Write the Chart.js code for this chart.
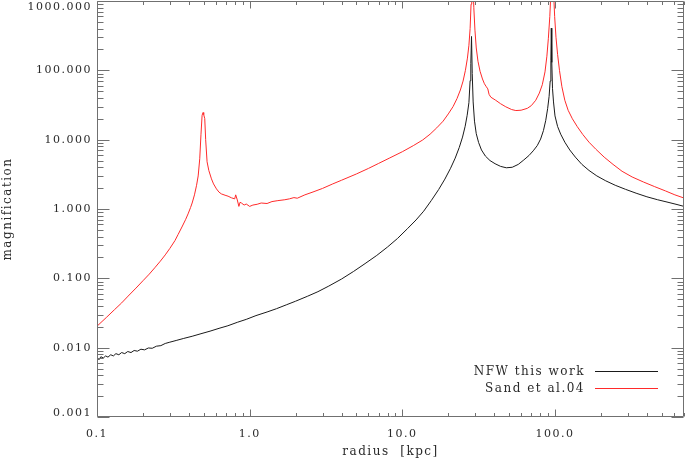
<!DOCTYPE html>
<html>
<head>
<meta charset="utf-8">
<script src="https://cdn.jsdelivr.net/npm/chart.js@4"></script>
<style>
  html, body { margin: 0; padding: 0; background: #fff; }
  #wrap { width: 685px; height: 461px; }
</style>
</head>
<body>
<div id="wrap"><canvas id="magChart" width="685" height="461"></canvas></div>
<script>
// magnification vs radius, log-log

const seriesNames = ['NFW this work', 'Sand et al.04'];
const seriesColors = ['#1a1a1a', '#ff2a2a'];

const xTickValues = [0.1, 1, 10, 100];
const yTickValues = [0.001, 0.01, 0.1, 1, 10, 100, 1000];

const nfwR = [
  0.100, 0.103, 0.106, 0.110, 0.114, 0.118, 0.123, 0.128, 0.133, 0.139,
  0.145, 0.152, 0.159, 0.167, 0.175, 0.184, 0.194, 0.205, 0.217, 0.230,
  0.245, 0.262, 0.280, 0.30, 0.33, 0.37, 0.42, 0.48, 0.55, 0.63,
  0.72, 0.83, 0.95, 1.1, 1.3, 1.5, 1.75, 2.0, 2.4, 2.8,
  3.3, 4.0, 4.8, 5.7, 6.8, 8.0, 9.3, 10.8, 12.3, 13.8,
  15.5, 17.3, 19.0, 20.7, 22.2, 23.6, 24.8, 25.8, 26.6, 27.3,
  27.8, 28.1, 28.4, 28.7, 29.1, 29.7, 30.5, 31.6, 33.0, 35.0,
  37.5, 40.5, 44.0, 48.0, 52.5, 57.5, 62.5, 67.5, 72.0, 76.5,
  80.5, 84.0, 87.0, 89.5, 91.5, 93.0, 94.0, 94.6, 95.3, 96.3,
  97.8, 100, 104, 109, 116, 125, 136, 150, 167, 188,
  215, 248, 290, 340, 400, 470, 550, 630, 700
];
const nfwMu = [
  0.0072, 0.0067, 0.0074, 0.0071, 0.0076, 0.0073, 0.0079, 0.0076, 0.0082, 0.0079,
  0.0085, 0.0082, 0.0088, 0.0085, 0.0091, 0.0089, 0.0095, 0.0093, 0.0099, 0.0098,
  0.0105, 0.0107, 0.0115, 0.0120, 0.0127, 0.0136, 0.0146, 0.0159, 0.0173, 0.0190,
  0.0207, 0.0232, 0.0256, 0.0290, 0.0327, 0.0365, 0.0417, 0.0468, 0.0553, 0.0642,
  0.0774, 0.0978, 0.126, 0.163, 0.214, 0.283, 0.376, 0.520, 0.695, 0.930,
  1.33, 1.91, 2.70, 3.87, 5.42, 7.72, 10.9, 15.6, 22.5, 34.2,
  71, 126, 308, 90, 35, 18.5, 12.2, 9.1, 7.1, 5.8,
  5.0, 4.5, 4.12, 3.93, 4.0, 4.4, 5.1, 5.9, 6.9, 8.2,
  10.2, 13.5, 19, 28, 42, 70, 140, 406, 130, 55,
  35, 22, 15.5, 12.0, 9.2, 7.1, 5.6, 4.4, 3.6, 3.0,
  2.55, 2.2, 1.92, 1.69, 1.5, 1.36, 1.25, 1.16, 1.09
];

const sandR = [
  0.100, 0.115, 0.13, 0.145, 0.16, 0.18, 0.20, 0.22, 0.239, 0.26,
  0.28, 0.30, 0.324, 0.34, 0.36, 0.38, 0.395, 0.41, 0.42, 0.435,
  0.449, 0.46, 0.471, 0.48, 0.488, 0.495, 0.50, 0.508, 0.515, 0.526,
  0.54, 0.562, 0.58, 0.606, 0.63, 0.653, 0.69, 0.722, 0.76, 0.798,
  0.81, 0.83, 0.85, 0.865, 0.883, 0.92, 0.95, 1.0, 1.05, 1.12,
  1.19, 1.3, 1.4, 1.53, 1.7, 1.82, 1.95, 2.05, 2.3, 2.6,
  3.0, 3.5, 4.0, 5.0, 6.0, 7.0, 8.2, 10, 11.8, 13.6,
  15.2, 16.8, 18.5, 20.0, 21.5, 22.8, 24.0, 25.0, 25.9, 26.7,
  27.3, 27.8, 28.2, 28.5, 28.7, 29.0, 29.4, 29.9, 30.5, 31.3,
  32.3, 33.5, 34.5, 35.5, 36.3, 37.0, 38.0, 40.9, 44, 47.6,
  52, 55.4, 60, 65.9, 70, 74.8, 79, 82.6, 86, 88.5,
  90.5, 92.5, 94.2, 96, 97.7, 99.5, 101.5, 104, 107, 111,
  116, 122, 130, 140, 152, 167, 185, 210, 240, 275,
  320, 380, 450, 530, 610, 700
];
const sandMu = [
  0.0204, 0.0272, 0.0352, 0.0442, 0.0555, 0.0723, 0.0923, 0.115, 0.142, 0.177,
  0.218, 0.270, 0.350, 0.43, 0.55, 0.70, 0.85, 1.05, 1.22, 1.6,
  2.2, 3.0, 5.3, 12, 22.5, 24.6, 23, 20.1, 10, 4.8,
  3.6, 2.72, 2.3, 1.95, 1.75, 1.65, 1.58, 1.53, 1.45, 1.40,
  1.6, 1.35, 1.09, 1.25, 1.22, 1.14, 1.18, 1.09, 1.14, 1.17,
  1.22, 1.20, 1.28, 1.32, 1.36, 1.40, 1.46, 1.43, 1.60, 1.76,
  1.98, 2.3, 2.6, 3.2, 3.85, 4.55, 5.4, 6.7, 8.2, 9.9,
  12.0, 14.8, 18.5, 23.5, 30, 39, 52, 70, 100, 150,
  230, 400, 900, 2500, 6000, 2000, 800, 380, 210, 135,
  97, 75, 64, 58, 54, 45, 41, 37, 33, 29.8,
  27.2, 26.3, 26.6, 28.3, 31, 37, 47, 62, 95, 160,
  290, 600, 1500, 6000, 1500, 600, 300, 170, 100, 58,
  37, 26.5, 20, 15.4, 11.9, 9.2, 7.3, 5.6, 4.4, 3.5,
  2.9, 2.45, 2.1, 1.82, 1.6, 1.44
];

const toPoints = (xs, ys) => xs.map((x, i) => ({ x: x, y: ys[i] }));

const labelFont = { family: 'DejaVu Serif', size: 11 };
const titleFont = { family: 'DejaVu Serif', size: 12 };
const textColor = '#2a2a2a';
const frameColor = '#707070';

// IDL style frame: box on all sides with inward major/minor ticks
const frameTicks = {
  id: 'frameTicks',
  beforeDraw(chart) {
    chart.ctx.letterSpacing = '1.5px';
  },
  afterDatasetsDraw(chart) {
    const { ctx, chartArea: a, scales } = chart;
    const L = Math.round(a.left) + 0.5, R = Math.round(a.right) - 0.5;
    const T = Math.round(a.top) + 0.5, B = Math.round(a.bottom) - 0.5;
    ctx.save();
    ctx.strokeStyle = frameColor;
    ctx.lineWidth = 1;
    ctx.beginPath();
    ctx.rect(L, T, R - L, B - T);
    ctx.stroke();
    const each = (scale, fn) => {
      const lo = Math.floor(Math.log10(scale.min) + 1e-9);
      const hi = Math.ceil(Math.log10(scale.max) - 1e-9);
      for (let d = lo; d <= hi; d++) {
        for (let m = 1; m <= 9; m++) {
          const v = m * Math.pow(10, d);
          if (v < scale.min * 0.9999 || v > scale.max * 1.0001) continue;
          fn(Math.round(scale.getPixelForValue(v)) + 0.5, m === 1);
        }
      }
    };
    ctx.beginPath();
    each(scales.x, (px, major) => {
      const len = major ? 7 : 3.5;
      ctx.moveTo(px, B); ctx.lineTo(px, B - len);
      ctx.moveTo(px, T); ctx.lineTo(px, T + len);
    });
    each(scales.y, (py, major) => {
      const len = major ? 12 : 6;
      ctx.moveTo(L, py); ctx.lineTo(L + len, py);
      ctx.moveTo(R, py); ctx.lineTo(R - len, py);
    });
    ctx.stroke();

    // y tick labels, end labels kept inside the frame height like IDL does
    ctx.font = '11px "DejaVu Serif"';
    ctx.fillStyle = textColor;
    ctx.textAlign = 'right';
    ctx.textBaseline = 'middle';
    yTickValues.forEach(v => {
      let py = scales.y.getPixelForValue(v);
      py = Math.min(Math.max(py, a.top + 6), a.bottom - 4);
      ctx.fillText(v.toFixed(3), a.left - 5, py);
    });
    ctx.restore();
  },
  afterDraw(chart) {
    const ctx = chart.ctx;
    ctx.save();
    ctx.font = '12px "DejaVu Serif"';
    ctx.textAlign = 'right';
    ctx.textBaseline = 'middle';
    const rows = [372, 389];
    chart.data.datasets.forEach((ds, i) => {
      ctx.fillStyle = textColor;
      ctx.fillText(ds.label, 585, rows[i]);
      ctx.strokeStyle = ds.borderColor;
      ctx.lineWidth = 1;
      ctx.beginPath();
      ctx.moveTo(595, rows[i] - 0.5);
      ctx.lineTo(658, rows[i] - 0.5);
      ctx.stroke();
    });
    ctx.restore();
  }
};

new Chart(document.getElementById('magChart').getContext('2d'), {
  type: 'scatter',
  data: {
    datasets: [
      { label: seriesNames[0], data: toPoints(nfwR, nfwMu), borderColor: seriesColors[0] },
      { label: seriesNames[1], data: toPoints(sandR, sandMu), borderColor: seriesColors[1] }
    ].map(ds => Object.assign(ds, {
      showLine: true, borderWidth: 1, pointRadius: 0, tension: 0, fill: false
    }))
  },
  options: {
    responsive: false,
    animation: false,
    devicePixelRatio: 1,
    layout: { padding: { top: 1, right: 1, left: 0, bottom: 0 } },
    plugins: { legend: { display: false }, tooltip: { enabled: false } },
    scales: {
      x: {
        type: 'logarithmic',
        min: 0.1,
        max: 700,
        afterBuildTicks: s => { s.ticks = xTickValues.map(v => ({ value: v })); },
        afterFit: s => { s.height = 44; s.paddingLeft = 0; s.paddingRight = 0; },
        grid: { display: false, drawTicks: false },
        border: { display: false },
        ticks: {
          autoSkip: false, maxRotation: 0, minRotation: 0, padding: 11,
          font: labelFont, color: textColor,
          callback: v => Number(v).toFixed(1)
        },
        title: { display: true, text: 'radius  [kpc]', font: titleFont, color: textColor, padding: { top: 0, bottom: 2 } }
      },
      y: {
        type: 'logarithmic',
        min: 0.001,
        max: 1000,
        afterBuildTicks: s => { s.ticks = yTickValues.map(v => ({ value: v })); },
        afterFit: s => { s.width = 97; s.paddingTop = 0; s.paddingBottom = 0; },
        grid: { display: false, drawTicks: false },
        border: { display: false },
        ticks: { display: false },
        title: { display: true, text: 'magnification', font: titleFont, color: textColor, padding: { top: 1, bottom: 0 } }
      }
    }
  },
  plugins: [frameTicks]
});
</script>
</body>
</html>
